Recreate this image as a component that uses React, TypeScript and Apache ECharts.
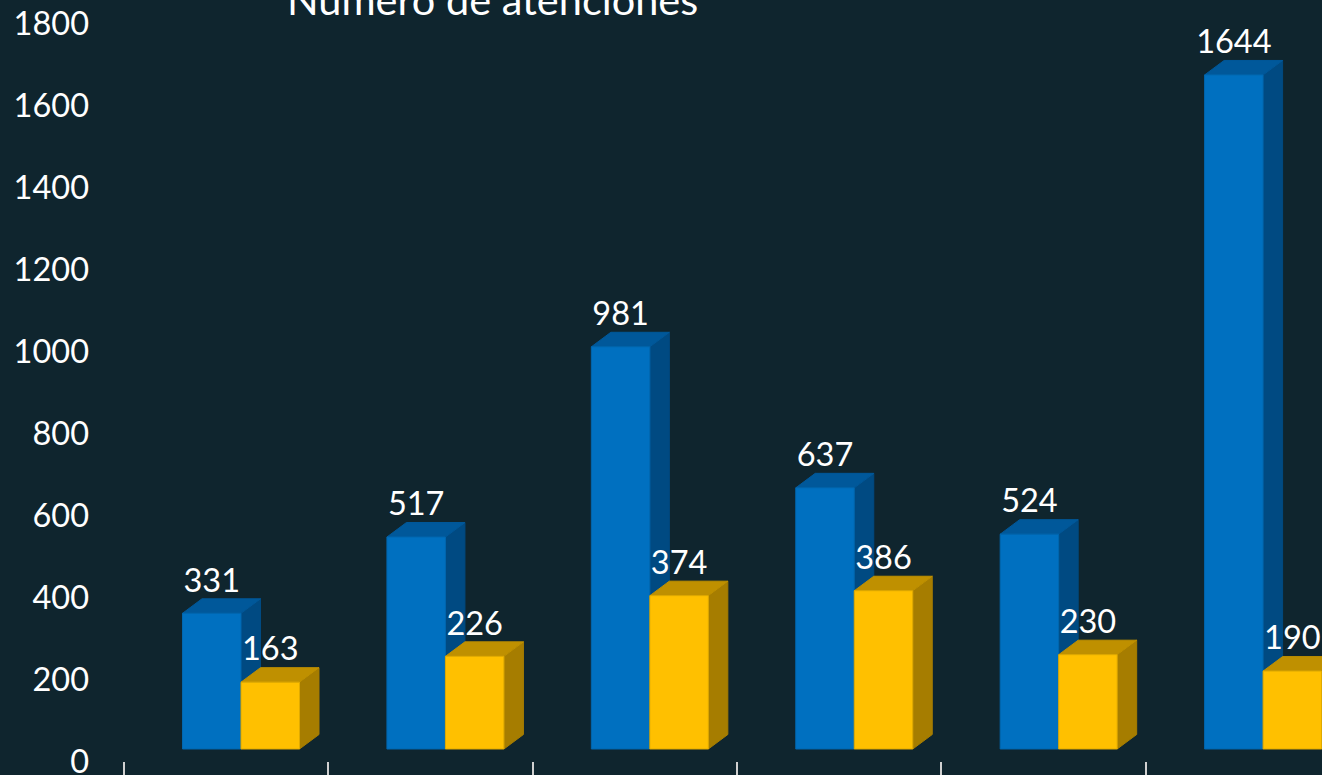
import React, { useEffect, useRef } from "react";
import * as echarts from "echarts";

const categories = ["A", "B", "C", "D", "E", "F"];
const blueValues = [331, 517, 981, 637, 524, 1644];
const yellowValues = [163, 226, 374, 386, 230, 190];
const yTicks = { min: 0, max: 1800, interval: 200 };
const titleText = "Número de atenciones";

const FONT = "Lato";
const BAR_W = 58.5;
const DX = 19.5;
const DY = 14.5;
const FLOOR = 13;

function bar3d(offset: number, front: string, top: string, side: string, edge: string) {
  return (params: any, api: any) => {
    const idx = api.value(0);
    const val = api.value(1);
    const base = api.coord([idx, 0]);
    const head = api.coord([idx, val]);
    const x0 = base[0] + offset;
    const x1 = x0 + BAR_W;
    const yb = base[1] - FLOOR;
    const yt = head[1] - FLOOR;
    const poly = (points: number[][], fill: string, stroke: string) => ({
      type: "polygon",
      shape: { points },
      style: { fill, stroke, lineWidth: 1 },
    });
    return {
      type: "group",
      children: [
        poly([[x1, yt], [x1 + DX, yt - DY], [x1 + DX, yb - DY], [x1, yb]], side, side),
        poly([[x0, yt], [x0 + DX, yt - DY], [x1 + DX, yt - DY], [x1, yt]], top, top),
        poly([[x0, yt], [x1, yt], [x1, yb], [x0, yb]], front, edge),
        {
          type: "text",
          z2: 10,
          style: {
            text: String(val),
            x: (x0 + x1) / 2,
            y: yt - DY - 19.7,
            align: "center",
            verticalAlign: "middle",
            fill: "#ffffff",
            font: `32.5px ${FONT}`,
          },
        },
      ],
    };
  };
}

export default function App() {
  const ref = useRef<HTMLDivElement>(null);
  useEffect(() => {
    document.body.style.margin = "0";
    document.body.style.background = "#0F252E";
    const chart = echarts.init(ref.current!, null, { renderer: "svg" });
    chart.setOption({
      animation: false,
      backgroundColor: "#0F252E",
      grid: { left: 123.5, top: 24, width: 1226.5, height: 738, outerBoundsMode: "none", containLabel: false },
      title: {
        text: titleText,
        left: 287,
        top: -22,
        padding: 0,
        textStyle: { color: "#ffffff", fontFamily: FONT, fontSize: 41.5, fontWeight: "normal" },
      },
      xAxis: {
        type: "category",
        data: categories,
        axisLine: { show: false },
        axisTick: { show: true, length: 14, inside: false, lineStyle: { color: "#D0D0D0", width: 2 } },
        axisLabel: { show: false },
        splitLine: { show: false },
      },
      yAxis: {
        type: "value",
        min: yTicks.min,
        max: yTicks.max,
        interval: yTicks.interval,
        axisLine: { show: false },
        axisTick: { show: false },
        splitLine: { show: false },
        axisLabel: {
          color: "#ffffff",
          fontFamily: FONT,
          fontSize: 32.5,
          margin: 34.5,
          verticalAlign: "bottom",
          lineHeight: 4,
          formatter: (v: number) => String(v),
        },
      },
      series: [
        {
          type: "custom",
          name: "Azul",
          renderItem: bar3d(-43.2, "#0070C0", "#00589A", "#004A82", "#0167AF"),
          encode: { x: 0, y: 1 },
          data: blueValues.map((v, i) => [i, v]),
          z: 2,
        },
        {
          type: "custom",
          name: "Amarillo",
          renderItem: bar3d(15.3, "#FFC000", "#BF9000", "#A67D00", "#E0AA00"),
          encode: { x: 0, y: 1 },
          data: yellowValues.map((v, i) => [i, v]),
          z: 3,
        },
      ],
    });
    return () => chart.dispose();
  }, []);
  return <div ref={ref} style={{ position: "absolute", left: 0, top: 0, width: 1322, height: 775 }} />;
}
